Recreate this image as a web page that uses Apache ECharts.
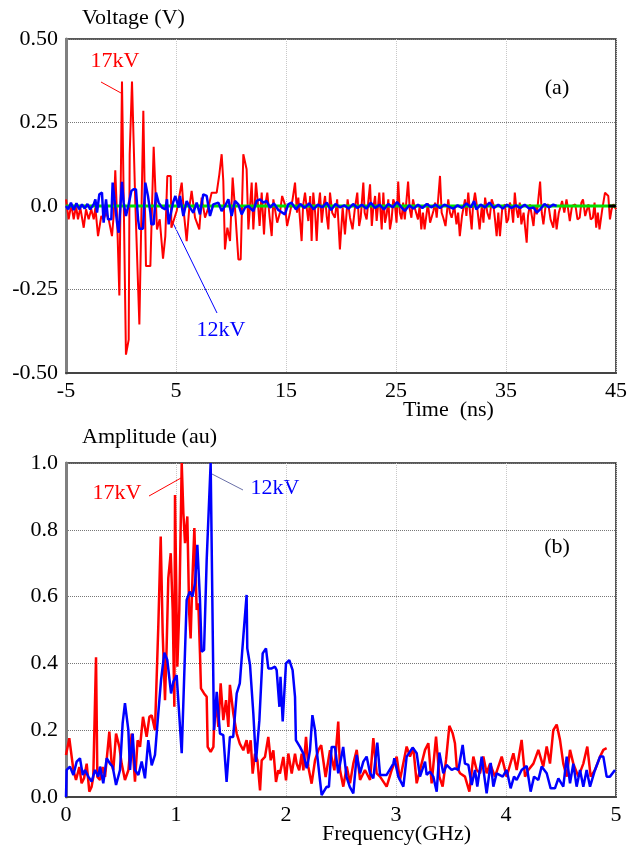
<!DOCTYPE html>
<html>
<head>
<meta charset="utf-8">
<script src="https://cdn.jsdelivr.net/npm/echarts@6.0.0/dist/echarts.min.js"></script>
<style>
html,body{margin:0;padding:0;background:#fff;}
#main{width:644px;height:847px;}
</style>
</head>
<body>
<div id="main"></div>
<script>
// ---- Panel (a): time-domain voltage, [time ns, volts] ----
const voltage17kV = [
[-5.00,0.020],[-4.76,-0.040],[-4.52,0.005],[-4.30,-0.040],[-4.09,0.000],[-3.91,-0.040],[-3.70,-0.005],[-3.39,-0.065],[-3.18,-0.010],[-2.94,-0.040],[-2.70,-0.010],[-2.48,-0.040],[-2.33,-0.005],[-2.09,-0.090],[-1.79,-0.030],[-1.58,-0.040],[-1.36,-0.020],[-1.12,-0.040],[-0.82,-0.090],[-0.67,-0.030],[-0.52,0.107],[-0.36,-0.030],[-0.15,-0.268],[0.09,0.373],[0.45,-0.445],[0.70,-0.400],[0.79,0.155],[1.00,0.373],[1.30,0.010],[1.67,-0.355],[2.03,0.285],[2.27,-0.180],[2.67,-0.180],[2.97,0.177],[3.27,-0.070],[3.52,-0.040],[3.82,-0.158],[4.03,-0.090],[4.21,0.090],[4.52,0.090],[4.58,-0.065],
[5.06,-0.015],[5.52,0.070],[5.73,-0.025],[5.97,-0.105],[6.21,-0.005],[6.42,0.045],[6.73,-0.035],[7.12,-0.070],[7.33,0.025],[7.64,-0.035],[7.94,-0.005],[8.24,0.040],[8.70,0.040],[8.94,0.095],[9.15,0.155],[9.30,0.075],[9.45,-0.130],[9.67,-0.065],[9.91,-0.105],[10.15,0.085],[10.36,-0.005],[10.67,-0.160],[10.88,-0.160],[11.12,0.155],[11.42,0.110],[11.58,-0.070],[11.88,0.070],
[12.03,-0.070],[12.27,0.070],[12.48,-0.005],[12.60,-0.060],[12.79,0.040],[13.00,-0.085],[13.15,0.010],[13.30,0.040],[13.50,-0.030],[13.70,-0.090],[13.85,0.020],[14.00,0.015],[14.20,-0.050],[14.45,-0.020],[14.65,0.030],[14.90,0.005],[15.10,-0.060],[15.36,-0.020],[15.60,0.020],[15.82,0.070],[16.00,-0.020],[16.12,0.025],[16.42,-0.105],[16.55,0.000],[16.73,0.040],[16.90,-0.010],[17.03,-0.045],[17.20,0.030],[17.33,-0.105],[17.48,0.040],[17.65,-0.020],[17.79,-0.105],[17.95,0.000],[18.09,0.040],[18.25,-0.050],[18.39,-0.005],[18.55,0.030],[18.70,-0.030],[18.85,-0.070],[19.00,0.040],[19.20,-0.020],[19.45,-0.035],[19.65,0.020],[19.90,-0.130],[20.15,-0.005],[20.36,-0.085],[20.60,0.020],[20.82,-0.035],[21.05,-0.070],[21.27,-0.005],[21.48,0.040],[21.65,-0.060],[21.79,-0.035],[22.03,0.070],[22.15,-0.020],[22.33,-0.040],[22.50,0.020],[22.64,0.065],[22.80,-0.060],[22.94,-0.005],[23.10,0.030],[23.24,-0.045],[23.48,0.040],[23.60,-0.020],[23.70,-0.070],[23.85,0.040],[24.00,-0.050],[24.15,-0.025],[24.30,0.020],[24.45,-0.070],
[24.60,-0.040],[24.75,0.020],[24.90,0.005],[25.05,-0.050],[25.20,0.073],[25.35,-0.020],[25.50,-0.040],[25.65,0.010],[25.80,-0.040],[26.10,0.073],[26.25,-0.010],[26.40,-0.035],[26.55,0.020],[26.70,-0.005],[27.00,-0.040],[27.15,0.000],[27.30,-0.070],[27.45,-0.020],[27.60,-0.070],[27.90,0.008],[28.10,-0.050],[28.40,-0.015],[28.55,0.010],[28.70,-0.035],[29.00,0.090],[29.15,-0.020],[29.30,-0.035],[29.50,-0.060],[29.75,0.020],[29.90,-0.020],[30.06,-0.035],[30.30,0.000],[30.50,-0.055],[30.65,-0.020],[30.80,-0.090],[31.00,-0.030],[31.27,0.020],[31.40,-0.030],[31.57,0.040],[31.70,-0.010],[31.88,-0.070],[32.00,0.000],[32.18,0.040],[32.40,-0.010],[32.60,-0.070],[32.80,0.000],[32.95,-0.050],[33.10,0.025],[33.30,-0.020],[33.50,-0.040],[33.70,0.020],[33.85,0.005],[34.00,-0.040],[34.15,-0.090],[34.30,-0.020],[34.45,-0.090],[34.65,-0.010],[34.90,0.005],[35.05,-0.050],[35.20,-0.040],[35.35,0.010],[35.50,-0.005],[35.65,-0.050],[35.80,0.040],[35.95,-0.010],[36.10,-0.035],[36.25,0.010],[36.40,-0.055],[36.60,-0.020],[36.88,-0.110],[37.00,-0.030],[37.18,0.005],[37.35,-0.030],[37.50,-0.060],[37.65,0.000],[37.80,-0.025],[38.10,0.073],[38.25,-0.020],[38.40,-0.055],[38.60,0.000],[38.85,0.005],[39.05,-0.040],[39.30,-0.065],[39.45,-0.010],[39.60,-0.070],[39.80,-0.020],[40.10,0.015],[40.30,-0.020],[40.50,0.020],[40.65,-0.010],[40.80,-0.045],[41.00,0.000],[41.30,0.005],[41.50,-0.040],[41.70,-0.035],[41.85,0.010],[42.00,0.020],[42.20,-0.030],[42.50,0.005],[42.70,-0.040],[42.90,-0.035],[43.05,0.010],[43.20,-0.065],[43.35,-0.020],[43.50,-0.070],[43.75,-0.010],[44.00,0.040],[44.30,0.030],[44.45,-0.040],[44.60,-0.010],[44.76,0.005],[45.00,-0.010]
];
const voltage12kV = [
[-5.00,0.000],[-4.80,-0.010],[-4.55,0.010],[-4.30,-0.012],[-4.05,0.008],[-3.80,-0.010],[-3.55,0.005],[-3.30,-0.008],[-3.05,0.006],[-2.80,-0.010],[-2.48,0.005],[-2.33,0.020],[-2.18,-0.020],[-1.97,0.035],[-1.73,0.040],[-1.58,-0.050],[-1.36,0.020],[-1.18,-0.040],[-0.88,-0.040],[-0.76,0.070],[-0.58,0.072],[-0.36,-0.050],[-0.21,-0.080],[0.09,0.072],[0.24,0.010],[0.45,-0.030],[0.70,0.005],[0.94,0.045],[1.15,0.050],[1.36,0.050],[1.55,-0.040],[1.67,-0.068],[2.00,-0.068],[2.21,0.070],[2.45,0.030],[2.67,-0.020],[2.76,-0.055],[2.97,-0.055],[3.18,0.040],[3.42,0.010],[3.73,-0.005],[4.03,-0.010],[4.18,0.020],[4.33,-0.055],[4.48,-0.030],[4.73,0.010],[4.94,0.030],[5.24,-0.005],
[5.36,0.030],[5.67,-0.030],[5.97,0.015],[6.27,-0.005],[6.58,-0.020],[6.88,0.010],[7.18,-0.025],[7.48,0.035],[7.79,0.030],[8.09,-0.030],[8.39,0.005],[8.85,0.010],[9.15,-0.015],[9.45,0.000],[9.76,0.020],[10.06,-0.030],[10.36,0.015],[10.67,0.005],[10.97,-0.025],[11.27,-0.005],[11.58,0.000],[12.03,-0.015],[12.33,0.015],[12.64,0.020],[12.94,0.010],[13.24,0.015],[13.55,-0.005],[13.90,0.008],[14.30,-0.012],[14.90,-0.025],[15.20,0.005],[15.50,0.010],[15.90,-0.010],[16.30,0.006],[16.70,-0.006],[17.10,0.008],[17.50,-0.010],[17.90,0.004],[18.30,-0.004],[18.70,0.010],[19.10,-0.012],[19.50,0.006],[19.90,-0.004],[20.30,0.002],[20.70,-0.008],[21.10,0.006],[21.50,-0.006],[21.90,0.004],[22.30,-0.008],[22.70,0.010],[23.10,-0.006],[23.50,0.004],[23.90,-0.010],[24.30,0.006],[24.70,-0.004],[25.10,0.012],[25.50,-0.004],[25.80,-0.015],[26.20,0.002],[26.60,-0.008],[27.00,0.004],[27.40,-0.006],[27.80,0.006],[28.20,-0.004],[28.60,0.004],[29.00,-0.006],[29.40,0.004],[29.80,-0.002],[30.20,-0.008],[30.60,0.002],[31.00,-0.006],[31.40,0.008],[31.80,-0.004],[32.10,0.015],[32.30,-0.010],[32.70,0.004],[33.10,-0.004],[33.50,0.010],[33.90,-0.006],[34.30,0.004],[34.70,-0.008],[35.10,0.004],[35.50,-0.006],[35.90,0.002],[36.30,-0.006],[36.70,0.004],[37.10,-0.008],[37.50,-0.004],[37.80,-0.020],[38.10,-0.010],[38.50,0.006],[38.90,-0.004],[39.30,0.004],[39.60,0.000]
];
const baselineGreen = [[-5,0],[45,0]];
const baselineBlack = [[44.3,0],[45,0]];

// ---- Panel (b): spectra, [frequency GHz, amplitude au] ----
const spectrum17kV = [
[0.000,0.126],[0.030,0.176],[0.067,0.081],[0.091,0.051],[0.121,0.090],[0.142,0.041],[0.164,0.056],[0.188,0.100],[0.212,0.016],[0.233,0.031],[0.248,0.060],[0.273,0.418],[0.285,0.060],[0.309,0.051],[0.333,0.090],[0.355,0.060],[0.394,0.196],[0.415,0.100],[0.430,0.080],[0.455,0.190],[0.485,0.150],[0.506,0.100],[0.536,0.051],[0.567,0.080],[0.597,0.190],[0.627,0.046],[0.651,0.170],[0.673,0.150],[0.700,0.240],[0.733,0.180],[0.758,0.240],[0.779,0.245],[0.809,0.200],[0.839,0.510],[0.861,0.780],[0.879,0.490],[0.900,0.290],[0.915,0.450],[0.930,0.655],[0.952,0.730],[0.970,0.560],[0.985,0.270],[0.991,0.904],[1.012,0.390],[1.030,0.560],[1.052,1.000],[1.067,0.850],[1.082,0.760],[1.103,0.840],[1.120,0.550],[1.133,0.475],[1.150,0.660],[1.167,0.805],[1.188,0.560],[1.203,0.580],[1.218,0.430],[1.227,0.325],[1.255,0.310],[1.279,0.300],[1.288,0.150],[1.315,0.135],[1.340,0.150],[1.345,0.200],[1.364,0.290],[1.385,0.210],[1.406,0.340],[1.430,0.230],[1.455,0.290],[1.476,0.210],[1.490,0.336],[1.521,0.250],[1.552,0.190],[1.580,0.160],[1.612,0.140],[1.642,0.170],[1.657,0.130],[1.679,0.170],[1.697,0.070],[1.718,0.130],[1.740,0.110],[1.764,0.020],[1.779,0.110],[1.809,0.120],[1.839,0.180],[1.861,0.110],[1.885,0.140],[1.909,0.045],[1.930,0.080],[1.945,0.070],[1.976,0.120],[2.000,0.050],[2.021,0.130],[2.052,0.070],[2.082,0.130],[2.097,0.100],[2.120,0.080],[2.143,0.130],[2.158,0.080],[2.182,0.180],[2.203,0.090],[2.233,0.040],[2.264,0.110],[2.294,0.140],[2.320,0.155],[2.360,0.060],[2.400,0.140],[2.440,0.080],[2.475,0.226],[2.491,0.081],[2.521,0.031],[2.552,0.091],[2.582,0.041],[2.612,0.100],[2.643,0.141],[2.673,0.051],[2.718,0.081],[2.764,0.051],[2.794,0.176],[2.824,0.071],[2.855,0.061],[2.915,0.031],[2.961,0.081],[3.006,0.121],[3.036,0.051],[3.097,0.151],[3.127,0.121],[3.158,0.146],[3.188,0.041],[3.218,0.081],[3.264,0.141],[3.294,0.161],[3.324,0.041],[3.364,0.181],[3.394,0.061],[3.424,0.031],[3.455,0.111],[3.485,0.213],[3.515,0.191],[3.536,0.161],[3.552,0.091],[3.582,0.071],[3.627,0.061],[3.667,0.016],[3.703,0.121],[3.733,0.081],[3.764,0.071],[3.794,0.121],[3.824,0.071],[3.855,0.100],[3.900,0.061],[3.961,0.121],[4.006,0.061],[4.067,0.131],[4.097,0.081],[4.142,0.171],[4.173,0.061],[4.203,0.081],[4.249,0.100],[4.294,0.141],[4.339,0.091],[4.370,0.151],[4.400,0.100],[4.430,0.200],[4.461,0.217],[4.491,0.171],[4.521,0.100],[4.552,0.061],[4.582,0.141],[4.612,0.100],[4.658,0.061],[4.703,0.100],[4.739,0.151],[4.770,0.061],[4.809,0.081],[4.855,0.121],[4.885,0.141],[4.915,0.146]
];
const spectrum12kV = [
[0.000,0.000],[0.006,0.081],[0.036,0.091],[0.067,0.066],[0.097,0.106],[0.127,0.116],[0.152,0.066],[0.173,0.081],[0.203,0.061],[0.233,0.046],[0.264,0.081],[0.294,0.061],[0.309,0.091],[0.339,0.041],[0.370,0.116],[0.400,0.100],[0.424,0.091],[0.455,0.036],[0.491,0.081],[0.515,0.221],[0.536,0.281],[0.567,0.200],[0.582,0.081],[0.606,0.190],[0.627,0.081],[0.658,0.066],[0.688,0.106],[0.718,0.056],[0.748,0.170],[0.779,0.095],[0.809,0.126],[0.839,0.251],[0.864,0.350],[0.894,0.432],[0.921,0.410],[0.955,0.310],[0.976,0.345],[1.006,0.365],[1.052,0.131],[1.097,0.590],[1.125,0.615],[1.150,0.600],[1.173,0.640],[1.194,0.755],[1.218,0.590],[1.233,0.435],[1.255,0.440],[1.279,0.710],[1.315,1.000],[1.345,0.200],[1.370,0.315],[1.400,0.190],[1.430,0.185],[1.460,0.045],[1.490,0.180],[1.520,0.180],[1.552,0.310],[1.580,0.340],[1.612,0.480],[1.642,0.605],[1.648,0.445],[1.673,0.395],[1.703,0.250],[1.727,0.105],[1.758,0.230],[1.788,0.430],[1.818,0.445],[1.839,0.385],[1.870,0.385],[1.900,0.390],[1.915,0.380],[1.940,0.270],[1.950,0.360],[1.970,0.226],[2.000,0.400],[2.030,0.410],[2.060,0.380],[2.082,0.300],[2.090,0.170],[2.127,0.150],[2.158,0.130],[2.188,0.086],[2.203,0.110],[2.218,0.140],[2.240,0.245],[2.264,0.200],[2.279,0.140],[2.309,0.050],[2.324,0.006],[2.370,0.031],[2.390,0.030],[2.415,0.150],[2.445,0.150],[2.475,0.071],[2.520,0.150],[2.550,0.060],[2.580,0.030],[2.612,0.011],[2.643,0.126],[2.673,0.071],[2.703,0.106],[2.733,0.121],[2.764,0.071],[2.794,0.056],[2.830,0.163],[2.855,0.066],[2.915,0.066],[2.976,0.100],[2.985,0.116],[3.021,0.061],[3.067,0.031],[3.097,0.121],[3.127,0.136],[3.151,0.148],[3.188,0.131],[3.218,0.061],[3.264,0.106],[3.279,0.066],[3.309,0.076],[3.339,0.061],[3.370,0.016],[3.394,0.133],[3.430,0.071],[3.460,0.096],[3.506,0.081],[3.536,0.086],[3.567,0.081],[3.606,0.156],[3.627,0.100],[3.658,0.096],[3.688,0.036],[3.718,0.081],[3.739,0.031],[3.779,0.121],[3.824,0.011],[3.861,0.102],[3.885,0.031],[3.915,0.071],[3.970,0.061],[4.006,0.081],[4.042,0.026],[4.073,0.061],[4.097,0.051],[4.142,0.081],[4.188,0.093],[4.224,0.016],[4.255,0.061],[4.294,0.051],[4.324,0.091],[4.370,0.071],[4.406,0.026],[4.445,0.026],[4.476,0.056],[4.521,0.031],[4.552,0.121],[4.582,0.041],[4.612,0.100],[4.642,0.031],[4.673,0.081],[4.703,0.031],[4.733,0.081],[4.764,0.031],[4.809,0.081],[4.855,0.121],[4.885,0.121],[4.915,0.061],[4.945,0.061],[4.991,0.081]
];

// ---- tick values ----
const timeTicks = [-5, 5, 15, 25, 35, 45];
const voltTicks = [-0.5, -0.25, 0, 0.25, 0.5];
const freqTicks = [0, 1, 2, 3, 4, 5];
const ampTicks = [0, 0.2, 0.4, 0.6, 0.8, 1.0];

const FONT = '"Liberation Serif", "Times New Roman", serif';
const FS = 22;

function xAxisCfg(grid, ticks, fmt) {
  return {
    type: 'value', gridIndex: grid,
    min: ticks[0], max: ticks[ticks.length - 1], interval: ticks[1] - ticks[0],
    axisLine: { show: true, onZero: false, lineStyle: { color: '#444', width: 2 } },
    axisTick: { show: false },
    axisLabel: { color: '#000', fontSize: FS, fontFamily: FONT, margin: 7, formatter: fmt },
    splitLine: { show: true, lineStyle: { color: '#c8c8c8', type: 'dotted', width: 1 } }
  };
}
function yAxisCfg(grid, ticks, fmt) {
  return {
    type: 'value', gridIndex: grid,
    min: ticks[0], max: ticks[ticks.length - 1], interval: ticks[1] - ticks[0],
    axisLine: { show: true, onZero: false, lineStyle: { color: '#808080', width: 3 } },
    axisTick: { show: false },
    axisLabel: { color: '#000', fontSize: FS, fontFamily: FONT, margin: 8, formatter: fmt },
    splitLine: { show: true, lineStyle: { color: '#777', type: 'dotted', width: 1 } }
  };
}

const chart = echarts.init(document.getElementById('main'), null, { renderer: 'canvas', width: 644, height: 847 });

const option = {
  animation: false,
  backgroundColor: '#fff',
  textStyle: { fontFamily: FONT },
  grid: [
    { left: 66, top: 39, width: 550, height: 334, show: true, borderColor: '#222', borderWidth: 1.5, backgroundColor: 'transparent' },
    { left: 66, top: 463, width: 550, height: 334, show: true, borderColor: '#222', borderWidth: 1.5, backgroundColor: 'transparent' }
  ],
  xAxis: [
    xAxisCfg(0, timeTicks, v => String(v)),
    xAxisCfg(1, freqTicks, v => String(v))
  ],
  yAxis: [
    yAxisCfg(0, voltTicks, v => (v === 0 ? '0.0' : v.toFixed(2))),
    yAxisCfg(1, ampTicks, v => v.toFixed(1))
  ],
  series: [
    { name: '17kV', type: 'line', xAxisIndex: 0, yAxisIndex: 0, data: voltage17kV, showSymbol: false, lineStyle: { color: '#ff0000', width: 2 }, z: 2 },
    { name: 'baseline', type: 'line', xAxisIndex: 0, yAxisIndex: 0, data: baselineGreen, showSymbol: false, lineStyle: { color: '#00e000', width: 3 }, z: 3 },
    { name: 'baseline-end', type: 'line', xAxisIndex: 0, yAxisIndex: 0, data: baselineBlack, showSymbol: false, lineStyle: { color: '#000', width: 3 }, z: 3 },
    { name: '12kV', type: 'line', xAxisIndex: 0, yAxisIndex: 0, data: voltage12kV, showSymbol: false, lineStyle: { color: '#0000ff', width: 2.5 }, z: 4 },
    { name: '17kV-spec', type: 'line', xAxisIndex: 1, yAxisIndex: 1, data: spectrum17kV, showSymbol: false, lineStyle: { color: '#ff0000', width: 2.5 }, z: 2 },
    { name: '12kV-spec', type: 'line', xAxisIndex: 1, yAxisIndex: 1, data: spectrum12kV, showSymbol: false, lineStyle: { color: '#0000ff', width: 2.5 }, z: 3 }
  ],
  graphic: [
    { type: 'text', x: 82, y: 18, style: { text: 'Voltage (V)', fontSize: FS, fontFamily: FONT, fill: '#000', align: 'left', verticalAlign: 'middle' } },
    { type: 'text', x: 403, y: 410, style: { text: 'Time  (ns)', fontSize: FS, fontFamily: FONT, fill: '#000', align: 'left', verticalAlign: 'middle' } },
    { type: 'text', x: 82, y: 437, style: { text: 'Amplitude (au)', fontSize: FS, fontFamily: FONT, fill: '#000', align: 'left', verticalAlign: 'middle' } },
    { type: 'text', x: 322, y: 834, style: { text: 'Frequency(GHz)', fontSize: FS, fontFamily: FONT, fill: '#000', align: 'left', verticalAlign: 'middle' } },
    { type: 'text', x: 557, y: 88, style: { text: '(a)', fontSize: FS, fontFamily: FONT, fill: '#000', align: 'center', verticalAlign: 'middle' } },
    { type: 'text', x: 557, y: 547, style: { text: '(b)', fontSize: FS, fontFamily: FONT, fill: '#000', align: 'center', verticalAlign: 'middle' } },
    { type: 'text', x: 115, y: 61, style: { text: '17kV', fontSize: FS, fontFamily: FONT, fill: '#ff0000', align: 'center', verticalAlign: 'middle' } },
    { type: 'line', shape: { x1: 101, y1: 82, x2: 121, y2: 93 }, style: { stroke: '#ff0000', lineWidth: 1 } },
    { type: 'text', x: 221, y: 330, style: { text: '12kV', fontSize: FS, fontFamily: FONT, fill: '#0000ff', align: 'center', verticalAlign: 'middle' } },
    { type: 'line', shape: { x1: 173, y1: 223, x2: 217, y2: 313 }, style: { stroke: '#0000ff', lineWidth: 1 } },
    { type: 'text', x: 117, y: 493, style: { text: '17kV', fontSize: FS, fontFamily: FONT, fill: '#ff0000', align: 'center', verticalAlign: 'middle' } },
    { type: 'line', shape: { x1: 149, y1: 496, x2: 181, y2: 478 }, style: { stroke: '#ff0000', lineWidth: 1 } },
    { type: 'text', x: 275, y: 488, style: { text: '12kV', fontSize: FS, fontFamily: FONT, fill: '#0000ff', align: 'center', verticalAlign: 'middle' } },
    { type: 'line', shape: { x1: 212, y1: 474, x2: 243, y2: 490 }, style: { stroke: '#6a70a8', lineWidth: 1 } }
  ]
};
chart.setOption(option);
</script>
</body>
</html>
